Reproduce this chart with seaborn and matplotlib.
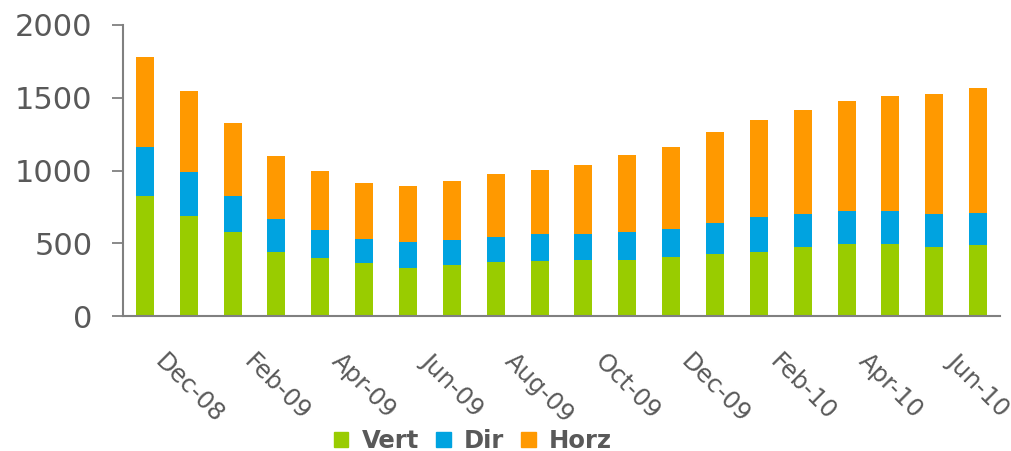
import numpy as np
import pandas as pd
import matplotlib
matplotlib.use("Agg")
import matplotlib.pyplot as plt
import seaborn as sns
from matplotlib.patches import Patch

months = ['Nov-08', 'Dec-08', 'Jan-09', 'Feb-09', 'Mar-09', 'Apr-09', 'May-09', 'Jun-09',
          'Jul-09', 'Aug-09', 'Sep-09', 'Oct-09', 'Nov-09', 'Dec-09', 'Jan-10', 'Feb-10',
          'Mar-10', 'Apr-10', 'May-10', 'Jun-10']
vert = [825, 687, 577, 440, 399, 364, 330, 350, 371, 378, 385, 385, 405, 426, 440, 474, 495, 495, 474, 488]
dirc = [336, 303, 248, 227, 192, 165, 179, 172, 172, 185, 178, 192, 193, 213, 240, 227, 227, 227, 227, 220]
horz = [617, 556, 501, 433, 406, 385, 384, 406, 433, 440, 475, 530, 563, 626, 667, 715, 756, 790, 825, 859]

df = pd.DataFrame({'month': months, 'Vert': vert, 'Dir': dirc, 'Horz': horz})
df['vd'] = df['Vert'] + df['Dir']
df['total'] = df['vd'] + df['Horz']

green = '#99CC00'
blue = '#00A3E0'
orange = '#FF9900'
axis_gray = '#808080'
text_gray = '#595959'

sns.set_style('white')
plt.rcParams['font.family'] = ['DejaVu Sans']

fig = plt.figure(figsize=(10.12, 4.51), dpi=100)
ax = fig.add_axes([123 / 1012, 1 - 316 / 451, (1000 - 123) / 1012, (316 - 25) / 451])

bw = 0.41
sns.barplot(data=df, x='month', y='total', color=orange, width=bw, saturation=1, ax=ax)
sns.barplot(data=df, x='month', y='vd', color=blue, width=bw, saturation=1, ax=ax)
sns.barplot(data=df, x='month', y='Vert', color=green, width=bw, saturation=1, ax=ax)
for p in ax.patches:
    p.set_linewidth(0)

ax.set_xlim(-0.5, len(months) - 0.5)
ax.set_ylim(0, 2000)
ax.set_yticks(np.arange(0, 2001, 500))
ax.set_xlabel('')
ax.set_ylabel('')

label_pos = np.arange(1, len(months), 2)
ax.set_xticks(label_pos)
ax.set_xticklabels([months[i] for i in label_pos], rotation=-45, ha='center', va='top')
ax.set_xticks(np.arange(-0.5, len(months), 2), minor=True)
ax.tick_params(axis='x', which='major', length=0, pad=24, labelsize=17.5, labelcolor=text_gray)
ax.tick_params(axis='x', which='minor', length=6, width=1.3, color=axis_gray, direction='out')
ax.tick_params(axis='y', length=8, width=1.3, color=axis_gray, direction='out', pad=14,
               labelsize=22, labelcolor=text_gray, left=True)

for side in ['top', 'right']:
    ax.spines[side].set_visible(False)
for side in ['left', 'bottom']:
    ax.spines[side].set_color(axis_gray)
    ax.spines[side].set_linewidth(1.5)

handles = [Patch(color=green, label='Vert'), Patch(color=blue, label='Dir'), Patch(color=orange, label='Horz')]
fig.legend(handles=handles, loc='center', bbox_to_anchor=(473 / 1012, 1 - 441 / 451), ncol=3,
           frameon=False, prop={'weight': 'bold', 'size': 17.5}, labelcolor=text_gray,
           handlelength=0.6, handleheight=0.6, handletextpad=0.55, columnspacing=0.7)

fig.savefig('out.png', dpi=100)
